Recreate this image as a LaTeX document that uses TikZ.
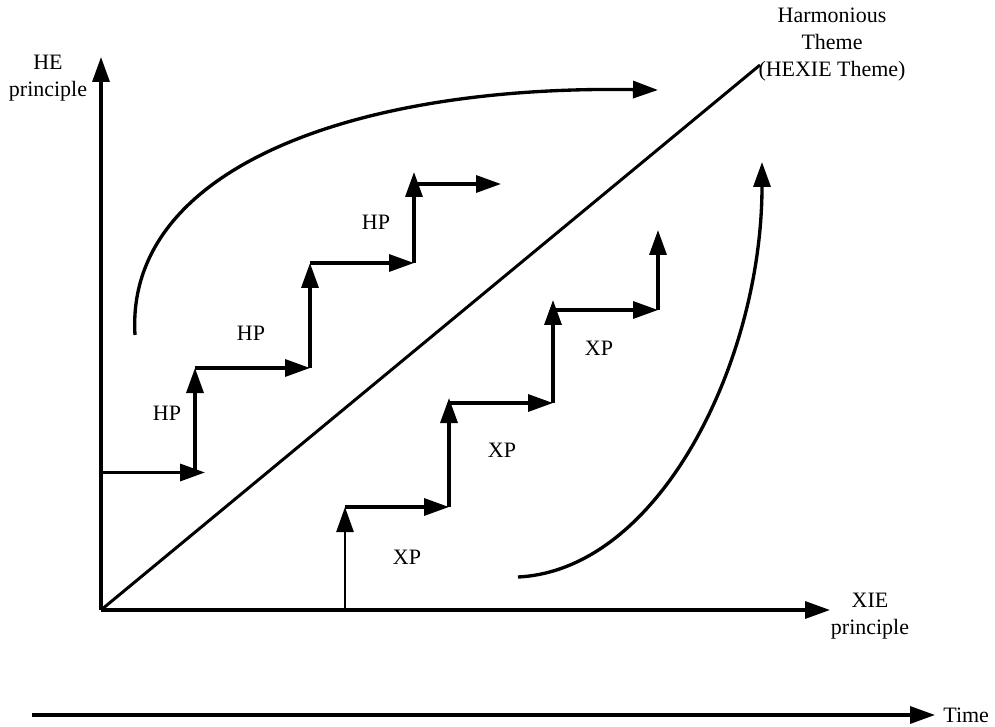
\documentclass[tikz,border=0pt]{standalone}
\usepackage{fontspec}
\setmainfont{Liberation Serif}
\usetikzlibrary{arrows.meta}

\begin{document}
\begin{tikzpicture}[
  font=\fontsize{12.5}{15.4}\selectfont,
  >={Triangle[length=5mm, width=3.4mm]},
  axis/.style={->, line width=1.9pt},
  stair/.style={->, line width=1.9pt},
  swing/.style={->, line width=1.9pt},
  lbl/.style={inner sep=0pt, align=center},
]
\useasboundingbox (-2.02,-2.32) rectangle (17.88,12.2);

% ---- axes ----
\coordinate (O)    at (0,0);
\coordinate (ytop) at (0,11.06);
\coordinate (xend) at (14.58,0);
\coordinate (hx)   at (13.18,10.9);
\draw[axis] (O) -- (ytop);
\draw[axis] (O) -- (xend);
\draw[line width=1.7pt] (O) -- (hx);

\node[lbl] (he)  at (-1.06,10.64) {HE\\principle};
\node[lbl] (xie) at (15.38,-0.12) {XIE\\principle};
\node[lbl] (hex) at (14.62,11.3)  {Harmonious\\Theme\\(HEXIE Theme)};

% ---- HE staircase (HP) ----
\coordinate (a0) at (0,2.75);    \coordinate (a1) at (2.08,2.75);
\coordinate (a2) at (1.88,2.75); \coordinate (a3) at (1.88,4.84);
\coordinate (a4) at (4.18,4.84); \coordinate (a5) at (4.18,6.94);
\coordinate (a6) at (6.26,6.94); \coordinate (a7) at (6.26,8.76);
\coordinate (a8) at (6.26,8.52); \coordinate (a9) at (8.0,8.52);
\draw[stair] (a0) -- (a1);
\draw[stair] (a2) -- (a3);
\draw[stair] (a3) -- (a4);
\draw[stair] (a4) -- (a5);
\draw[stair] (a5) -- (a6);
\draw[stair] (a6) -- (a7);
\draw[stair] (a8) -- (a9);
\node[lbl] (hp1) at (1.32,3.94) {HP};
\node[lbl] (hp2) at (3.0,5.54)  {HP};
\node[lbl] (hp3) at (5.5,7.76)  {HP};

% ---- XIE staircase (XP) ----
\coordinate (b0) at (4.88,0);    \coordinate (b1) at (4.88,2.06);
\coordinate (b2) at (6.96,2.06); \coordinate (b3) at (6.96,4.24);
\coordinate (b4) at (6.96,4.14); \coordinate (b5) at (9.04,4.14);
\coordinate (b6) at (9.04,6.2);  \coordinate (b7) at (9.04,6.0);
\coordinate (b8) at (11.14,6.0); \coordinate (b9) at (11.14,7.6);
\draw[stair, line width=1.5pt] (b0) -- (b1);
\draw[stair] (b1) -- (b2);
\draw[stair] (b2) -- (b3);
\draw[stair] (b4) -- (b5);
\draw[stair] (b5) -- (b6);
\draw[stair] (b7) -- (b8);
\draw[stair] (b8) -- (b9);
\node[lbl] (xp1) at (6.12,1.06) {XP};
\node[lbl] (xp2) at (8.02,3.2)  {XP};
\node[lbl] (xp3) at (9.96,5.24) {XP};

% ---- the two swings toward the theme ----
\coordinate (c0) at (0.68,5.5);  \coordinate (c1) at (11.14,10.4);
\draw[swing] (c0) .. controls (0.48,8.8) and (4.98,10.5) .. (c1);
\coordinate (d0) at (8.34,0.66); \coordinate (d1) at (13.22,8.96);
\draw[swing] (d0) .. controls (11.18,0.8) and (13.22,5.0) .. (d1);

% ---- time ----
\coordinate (t0) at (-1.38,-2.1); \coordinate (t1) at (16.68,-2.1);
\draw[axis] (t0) -- (t1);
\node[lbl, anchor=west] (time) at (16.84,-2.1) {Time};
\end{tikzpicture}
\end{document}
